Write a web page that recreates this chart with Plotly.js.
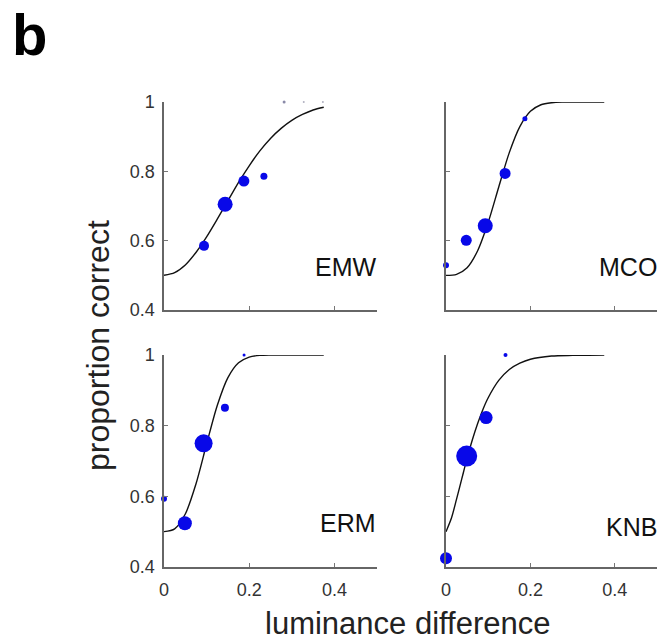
<!DOCTYPE html>
<html>
<head>
<meta charset="utf-8">
<script src="https://cdn.plot.ly/plotly-3.0.1.min.js"></script>
<style>html,body{margin:0;padding:0;background:#fff;}#plot{width:662px;height:642px;}</style>
</head>
<body>
<div id="plot"></div>
<script>
// ---- data ----
var panelNames = ['EMW', 'MCO', 'ERM', 'KNB'];

// observed points (luminance difference, proportion correct, relative weight -> marker diameter)
var emwX = [0.094, 0.1435, 0.1875, 0.2345, 0.282, 0.328, 0.373];
var emwY = [0.585, 0.705, 0.772, 0.786, 1.0, 1.0, 1.0];
var emwN = [10, 15, 11, 7, 3, 2, 2];

var mcoX = [0.0, 0.048, 0.093, 0.140, 0.187];
var mcoY = [0.529, 0.601, 0.643, 0.794, 0.952];
var mcoN = [6, 11, 15, 11, 5];

var ermX = [0.0, 0.049, 0.093, 0.143, 0.188];
var ermY = [0.593, 0.524, 0.750, 0.851, 1.0];
var ermN = [6, 14, 18, 8, 3];

var knbX = [0.0, 0.049, 0.095, 0.141];
var knbY = [0.425, 0.714, 0.823, 1.0];
var knbN = [12, 21, 13, 4];

// fitted curves
var curveX = [0, 0.025, 0.05, 0.075, 0.1, 0.125, 0.15, 0.175, 0.2, 0.225, 0.25, 0.275, 0.3, 0.325, 0.35, 0.375];
var emwFit = [0.500, 0.508, 0.530, 0.566, 0.611, 0.662, 0.715, 0.768, 0.816, 0.859, 0.895, 0.924, 0.947, 0.964, 0.977, 0.985];
var mcoFit = [0.500, 0.503, 0.522, 0.571, 0.653, 0.755, 0.854, 0.929, 0.973, 0.992, 0.998, 1.0, 1.0, 1.0, 1.0, 1.0];
var ermFit = [0.500, 0.508, 0.550, 0.635, 0.748, 0.857, 0.936, 0.978, 0.994, 0.999, 1.0, 1.0, 1.0, 1.0, 1.0, 1.0];
var knbCurveX = [0, 0.0125, 0.025, 0.0375, 0.05, 0.0625, 0.075, 0.0875, 0.1, 0.125, 0.15, 0.175, 0.2, 0.25, 0.3, 0.375];
var knbFit = [0.500, 0.537, 0.592, 0.650, 0.708, 0.760, 0.806, 0.846, 0.879, 0.928, 0.959, 0.977, 0.988, 0.997, 0.999, 1.0];

var xTickVals = [0, 0.2, 0.4];
var xTickText = ['0', '0.2', '0.4'];
var yTickVals = [0.4, 0.6, 0.8, 1];
var yTickText = ['0.4', '0.6', '0.8', '1'];

var xTitle = 'luminance difference';
var yTitle = 'proportion correct';
var panelLetter = 'b';

// ---- drawing ----
var W = 662, H = 642;
var blue = '#0808e8';

function pts(x, y, n, ax, colors) {
  return {x: x, y: y, type: 'scatter', mode: 'markers', xaxis: 'x' + ax, yaxis: 'y' + ax,
    marker: {color: colors || blue, size: n, opacity: 1, line: {width: 0}}, cliponaxis: false, hoverinfo: 'skip'};
}
function fit(x, y, ax) {
  return {x: x, y: y, type: 'scatter', mode: 'lines', xaxis: 'x' + ax, yaxis: 'y' + ax,
    line: {color: '#111', width: 1.4, shape: 'spline', smoothing: 0.8}, cliponaxis: false, hoverinfo: 'skip'};
}

var emwColors = [blue, blue, blue, blue, '#8a8aa8', '#b0b0c0', '#b0b0c0'];

var data = [
  fit(curveX, emwFit, ''), pts(emwX, emwY, emwN, '', emwColors),
  fit(curveX, mcoFit, '2'), pts(mcoX, mcoY, mcoN, '2'),
  fit(curveX, ermFit, '3'), pts(ermX, ermY, ermN, '3'),
  fit(knbCurveX, knbFit, '4'), pts(knbX, knbY, knbN, '4')
];

var colL = [164 / W, 377 / W], colR = [446 / W, 657 / W];
var rowT = [1 - 310 / H, 1 - 102 / H], rowB = [1 - 567 / H, 1 - 355 / H];

function xa(dom, anchor, labels) {
  return {domain: dom, anchor: anchor, range: [0, 0.5], showline: true, linecolor: '#666', linewidth: 1.6,
    ticks: 'inside', ticklen: 4, tickcolor: '#777', tickwidth: 1, tickvals: xTickVals, ticktext: xTickText,
    showticklabels: labels, showgrid: false, zeroline: false, fixedrange: true,
    tickfont: {family: 'Liberation Sans, Arial, sans-serif', size: 18, color: '#333'}, ticklabelstandoff: 6};
}
function ya(dom, anchor, labels) {
  return {domain: dom, anchor: anchor, range: [0.4, 1], showline: true, linecolor: '#666', linewidth: 1.6,
    ticks: 'inside', ticklen: 4, tickcolor: '#777', tickwidth: 1, tickvals: yTickVals, ticktext: yTickText,
    showticklabels: labels, showgrid: false, zeroline: false, fixedrange: true,
    tickfont: {family: 'Liberation Sans, Arial, sans-serif', size: 18, color: '#333'}, ticklabelstandoff: 4};
}

var font = 'Liberation Sans, Arial, sans-serif';
function lab(text, xr, yc) {
  return {text: text, xref: 'paper', yref: 'paper', x: xr / W, y: 1 - yc / H, xanchor: 'right', yanchor: 'middle',
    showarrow: false, font: {family: font, size: 25, color: '#111'}};
}

var layout = {
  width: W, height: H, margin: {l: 0, r: 0, t: 0, b: 0}, paper_bgcolor: '#fff', plot_bgcolor: 'rgba(0,0,0,0)',
  showlegend: false,
  xaxis: xa(colL, 'y', false), yaxis: ya(rowT, 'x', true),
  xaxis2: xa(colR, 'y2', false), yaxis2: ya(rowT, 'x2', false),
  xaxis3: xa(colL, 'y3', true), yaxis3: ya(rowB, 'x3', true),
  xaxis4: xa(colR, 'y4', true), yaxis4: ya(rowB, 'x4', false),
  annotations: [
    lab(panelNames[0], 379, 267), lab(panelNames[1], 659, 267),
    lab(panelNames[2], 378, 523), lab(panelNames[3], 659, 527),
    {text: xTitle, xref: 'paper', yref: 'paper', x: 408 / W, y: 1 - 623 / H, xanchor: 'center', yanchor: 'middle',
      showarrow: false, font: {family: font, size: 31, color: '#222'}},
    {text: yTitle, xref: 'paper', yref: 'paper', x: 98 / W, y: 1 - 345 / H, xanchor: 'center', yanchor: 'middle',
      textangle: -90, showarrow: false, font: {family: font, size: 32, color: '#222'}},
    {text: '<b>' + panelLetter + '</b>', xref: 'paper', yref: 'paper', x: 10 / W, y: 1, xanchor: 'left', yanchor: 'top',
      showarrow: false, font: {family: font, size: 58, color: '#000'}}
  ]
};

Plotly.newPlot('plot', data, layout, {staticPlot: true, displayModeBar: false});
</script>
</body>
</html>
